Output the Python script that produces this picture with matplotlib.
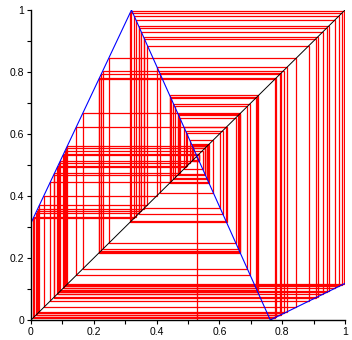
import matplotlib
matplotlib.use("Agg")
import numpy as np
from matplotlib import pyplot as plt

# the map (blue polyline)
map_x = [0.0, 0.32, 0.762, 1.0]
map_y = [0.313, 1.0, 0.0, 0.118]

# orbit of the cobweb (red), starting near the fixed point
orbit = [0.5296, 0.5257, 0.5346, 0.5145, 0.5599, 0.4573, 0.6892, 0.1647, 0.6666,
         0.2158, 0.7763, 0.0071, 0.3282, 0.9814, 0.1088, 0.5466, 0.4873, 0.6215,
         0.3179, 0.9955, 0.1158, 0.5616, 0.4534, 0.6982, 0.1443, 0.6228, 0.3149,
         0.9891, 0.1126, 0.5548, 0.4688, 0.6633, 0.2233, 0.7924, 0.0151, 0.3454,
         0.9425, 0.0895, 0.5052, 0.5810, 0.4095, 0.7975, 0.0176, 0.3508, 0.9303,
         0.0834, 0.4921, 0.6106, 0.3425, 0.9491, 0.0928, 0.5122, 0.5651, 0.4455,
         0.7161, 0.1038, 0.5359, 0.5115, 0.5667, 0.4418, 0.7244, 0.0851, 0.4957,
         0.6025, 0.3609, 0.9075, 0.0721, 0.4678, 0.6656, 0.2181, 0.7813, 0.0096,
         0.3336, 0.9692, 0.1027, 0.5335, 0.5170, 0.5543, 0.4699, 0.6608, 0.2290,
         0.8047, 0.0212, 0.3585, 0.9129, 0.0748, 0.4736, 0.6525, 0.2477, 0.8448,
         0.0411, 0.4012, 0.8163, 0.0269, 0.3708, 0.8850, 0.0610, 0.4440, 0.7194,
         0.0964]

fig = plt.figure(figsize=(3.52, 3.40), dpi=100)
ax = fig.add_axes([31/352, 20/340, 314/352, 310/340])

# cobweb path: (x0,0) -> (x0,x1) -> (x1,x1) -> (x1,x2) ...
px = [orbit[0]]
py = [0.0]
for a, b in zip(orbit[:-1], orbit[1:]):
    px += [a, b]
    py += [b, b]
ax.plot(px, py, color="red", lw=0.9, solid_joinstyle="miter")

ax.plot([0, 1], [0, 1], color="black", lw=0.7)
ax.plot(map_x, map_y, color="blue", lw=0.8)

ax.set_xlim(0, 1)
ax.set_ylim(0, 1)
for s in ["top", "right"]:
    ax.spines[s].set_visible(False)
ax.spines["left"].set_linewidth(1.0)
ax.spines["bottom"].set_linewidth(1.0)
ax.set_xticks([0, 0.2, 0.4, 0.6, 0.8, 1])
ax.set_xticklabels(["0", "0.2", "0.4", "0.6", "0.8", "1"])
ax.set_yticks([0, 0.2, 0.4, 0.6, 0.8, 1])
ax.set_yticklabels(["0", "0.2", "0.4", "0.6", "0.8", "1"])
ax.set_xticks(np.arange(0.1, 1.0, 0.2), minor=True)
ax.set_yticks(np.arange(0.1, 1.0, 0.2), minor=True)
ax.tick_params(which="both", direction="out", length=3, width=0.8, labelsize=7.5, pad=2)
for lab in ax.get_xticklabels() + ax.get_yticklabels():
    lab.set_family("Liberation Sans")

plt.savefig("out.png", dpi=100)
